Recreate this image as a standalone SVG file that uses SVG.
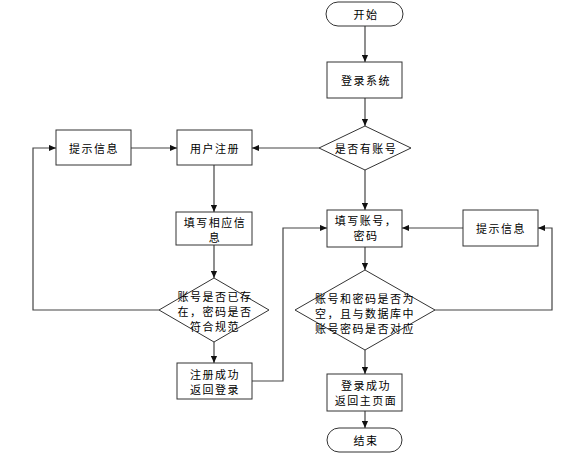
<svg xmlns="http://www.w3.org/2000/svg" width="588" height="455" viewBox="0 0 588 455">
<defs>
<style>
.s{fill:#fff;stroke:#333;stroke-width:1}
.c{fill:none;stroke:#444;stroke-width:1.2}
text{font-family:"Noto Sans CJK SC","Noto Sans",sans-serif;font-size:11px;fill:#000;text-anchor:middle;dominant-baseline:central;letter-spacing:1.5px}
</style>
<marker id="a" viewBox="0 0 8 8" refX="8" refY="4" markerWidth="7" markerHeight="7" markerUnits="userSpaceOnUse" orient="auto">
<path d="M0,0.5 L8,4 L0,7.5 Z" fill="#111"/>
</marker>
</defs>
<rect width="588" height="455" fill="#fff"/>
<g id="connectors">
<path class="c" d="M365,26 V62" marker-end="url(#a)"/>
<path class="c" d="M365,98 V126" marker-end="url(#a)"/>
<path class="c" d="M365,170 V210" marker-end="url(#a)"/>
<path class="c" d="M319,148 H252" marker-end="url(#a)"/>
<path class="c" d="M131,148 H177" marker-end="url(#a)"/>
<path class="c" d="M214,165 V212" marker-end="url(#a)"/>
<path class="c" d="M214,245 V278" marker-end="url(#a)"/>
<path class="c" d="M214,342 V363" marker-end="url(#a)"/>
<path class="c" d="M159,310 H33 V148 H56" marker-end="url(#a)"/>
<path class="c" d="M252,381 H283 V228 H327" marker-end="url(#a)"/>
<path class="c" d="M463,228 H402" marker-end="url(#a)"/>
<path class="c" d="M365,247 V270" marker-end="url(#a)"/>
<path class="c" d="M435,310 H552 V228 H538" marker-end="url(#a)"/>
<path class="c" d="M365,350 V374" marker-end="url(#a)"/>
<path class="c" d="M365,411 V428" marker-end="url(#a)"/>
</g>
<g id="start"><rect class="s" x="326" y="2" width="77" height="24" rx="12"/><text x="366" y="14">开始</text></g>
<g id="login"><rect class="s" x="327" y="62" width="75" height="36"/><text x="366" y="80">登录系统</text></g>
<g id="hasAccount"><path class="s" d="M365,126 L411,148 L365,170 L319,148 Z"/><text x="366" y="148">是否有账号</text></g>
<g id="registerUser"><rect class="s" x="177" y="130" width="75" height="35"/><text x="215" y="148">用户注册</text></g>
<g id="tipLeft"><rect class="s" x="56" y="130" width="75" height="35"/><text x="94" y="148">提示信息</text></g>
<g id="fillInfo"><rect class="s" x="176" y="212" width="76" height="33"/><text x="215" y="222">填写相应信</text><text x="215" y="237">息</text></g>
<g id="checkReg"><path class="s" d="M214,278 L269,310 L214,342 L159,310 Z"/><text x="215" y="296">账号是否已存</text><text x="215" y="311">在，密码是否</text><text x="215" y="326">符合规范</text></g>
<g id="regSuccess"><rect class="s" x="177" y="363" width="75" height="36"/><text x="215" y="374">注册成功</text><text x="215" y="389">返回登录</text></g>
<g id="fillAccount"><rect class="s" x="327" y="210" width="75" height="37"/><text x="366" y="220">填写账号，</text><text x="366" y="235">密码</text></g>
<g id="tipRight"><rect class="s" x="463" y="210" width="75" height="36"/><text x="501" y="228">提示信息</text></g>
<g id="checkLogin"><path class="s" d="M365,270 L435,310 L365,350 L295,310 Z"/><text x="365" y="298">账号和密码是否为</text><text x="365" y="313">空，且与数据库中</text><text x="365" y="328">账号密码是否对应</text></g>
<g id="loginSuccess"><rect class="s" x="327" y="374" width="75" height="37"/><text x="366" y="385">登录成功</text><text x="366" y="400">返回主页面</text></g>
<g id="end"><rect class="s" x="327" y="428" width="75" height="24" rx="12"/><text x="366" y="440">结束</text></g>
</svg>
